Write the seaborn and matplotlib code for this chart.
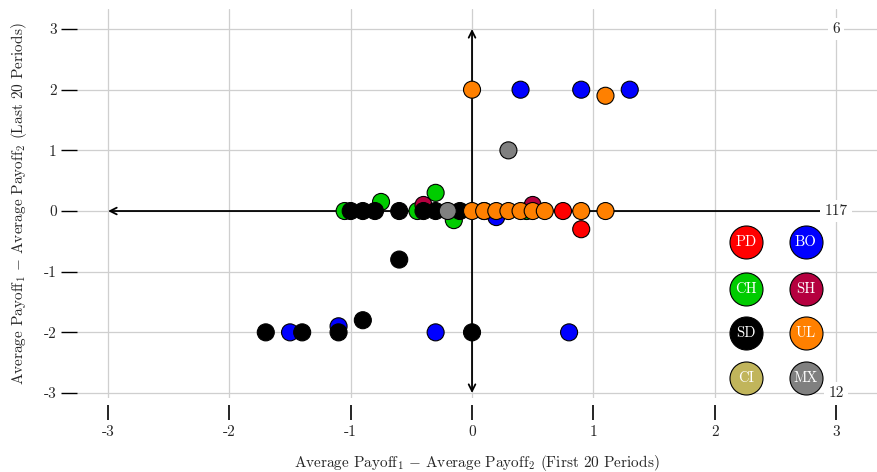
import pandas as pd
import matplotlib
matplotlib.use('Agg')
import matplotlib.pyplot as plt
import seaborn as sns

# data: (first 20 periods diff, last 20 periods diff) per game type
bo_x = [0.4, 0.9, 1.3, -1.5, -1.1, -0.3, 0.8, 0.2]
bo_y = [2.0, 2.0, 2.0, -2.0, -1.9, -2.0, -2.0, -0.1]
pd_x = [0.75, 0.9]
pd_y = [0.0, -0.3]
ch_x = [-1.05, -0.75, -0.45, -0.3, -0.15, 0.1, 0.45]
ch_y = [0.0, 0.15, 0.0, 0.3, -0.15, 0.0, 0.0]
sh_x = [-0.4, 0.5]
sh_y = [0.1, 0.1]
sd_x = [-1.0, -0.9, -0.8, -0.6, -0.4, -0.3, -0.1, -0.6, -1.7, -1.4, -1.1, -0.9, 0.0]
sd_y = [0.0, 0.0, 0.0, 0.0, 0.0, 0.0, 0.0, -0.8, -2.0, -2.0, -2.0, -1.8, -2.0]
mx_x = [-0.2, 0.3]
mx_y = [0.0, 1.0]
ul_x = [0.0, 0.1, 0.2, 0.3, 0.4, 0.5, 0.6, 0.9, 1.1, 0.0, 1.1]
ul_y = [0.0, 0.0, 0.0, 0.0, 0.0, 0.0, 0.0, 0.0, 0.0, 2.0, 1.9]

legend_labels = ["PD", "BO", "CH", "SH", "SD", "UL", "CI", "MX"]
colors = {"PD": "#ff0000", "BO": "#0000ff", "CH": "#00cc00", "SH": "#b5003f",
          "SD": "#000000", "UL": "#ff8000", "CI": "#c1b55b", "MX": "#808080"}

count_labels = ["6", "117", "12"]
count_y = [3, 0, -3]
ticks = [-3, -2, -1, 0, 1, 2, 3]

groups = [("BO", bo_x, bo_y), ("PD", pd_x, pd_y), ("CH", ch_x, ch_y), ("SH", sh_x, sh_y),
          ("SD", sd_x, sd_y), ("MX", mx_x, mx_y), ("UL", ul_x, ul_y)]
rows = []
for name, xs, ys in groups:
    for x, y in zip(xs, ys):
        rows.append({"first": x, "last": y, "game": name})
df = pd.DataFrame(rows)

sns.set_theme(style="whitegrid")
plt.rcParams['font.family'] = ['cmr10', 'DejaVu Serif']
plt.rcParams['mathtext.fontset'] = 'cm'
plt.rcParams['axes.unicode_minus'] = False

fig = plt.figure(figsize=(8.77, 4.72), dpi=100)
ax = fig.add_axes([77 / 877, 74 / 472, 800 / 877, 389 / 472])

# axis arrows from the origin
for end in [(0, 3), (0, -3), (-3, 0), (3, 0)]:
    ax.annotate("", xy=end, xytext=(0, 0),
                arrowprops=dict(arrowstyle="->", lw=1.3, color="black", shrinkA=0, shrinkB=0),
                zorder=2)

sns.scatterplot(data=df, x="first", y="last", hue="game", palette=colors,
                s=150, edgecolor="black", linewidth=0.8, legend=False, ax=ax, zorder=3)

# counts
for lab, y in zip(count_labels, count_y):
    ax.text(3, y, lab, ha="center", va="center", fontsize=11, zorder=4,
            bbox=dict(boxstyle="square,pad=0.3", fc="white", ec="none"))

# custom legend of circles
leg_x = [0.836, 0.911]
leg_y = [0.401, 0.280, 0.167, 0.051]
for i, lab in enumerate(legend_labels):
    lx = leg_x[i % 2]
    ly = leg_y[i // 2]
    ax.scatter([lx], [ly], s=565, color=colors[lab], edgecolor="black", linewidth=0.8,
               transform=ax.transAxes, zorder=5, clip_on=False)
    ax.text(lx, ly, lab, color="white", ha="center", va="center", fontsize=10.5,
            transform=ax.transAxes, zorder=6)

ax.set_xlim(-3.256, 3.338)
ax.set_ylim(-3.082, 3.330)
ax.set_xticks(ticks)
ax.set_yticks(ticks)
ax.set_xticklabels([str(t) for t in ticks])
ax.set_yticklabels([str(t) for t in ticks])
ax.grid(True, color="#cfcfcf", linewidth=0.9)
for s in ax.spines.values():
    s.set_visible(False)
ax.spines['bottom'].set_position(('outward', 5))
ax.tick_params(axis='x', direction='out', length=11, width=1.2, color='black',
               bottom=True, pad=4, labelsize=11)
ax.tick_params(axis='y', direction='out', length=11.5, width=1.0, color='black',
               left=True, pad=3, labelsize=11)

ax.set_xlabel(r"Average Payoff$_1$ $-$ Average Payoff$_2$ (First 20 Periods)", fontsize=11, labelpad=10)
ax.set_ylabel(r"Average Payoff$_1$ $-$ Average Payoff$_2$ (Last 20 Periods)", fontsize=11, labelpad=11)

fig.savefig("out.png", dpi=100)
